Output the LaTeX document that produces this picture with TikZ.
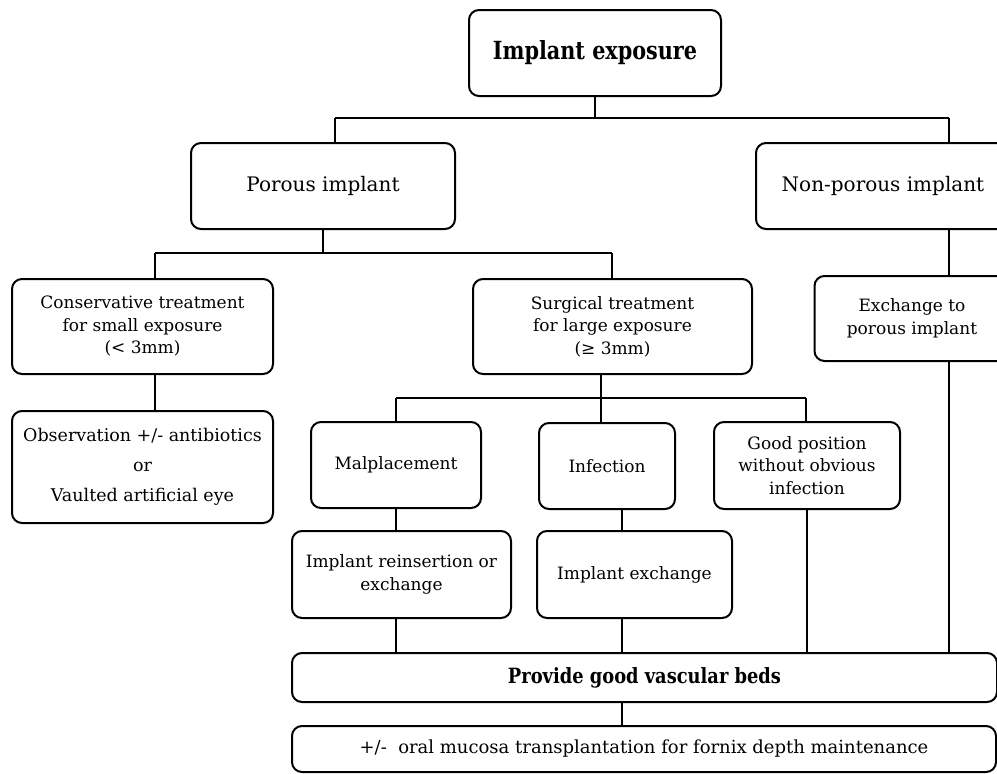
\documentclass[tikz,border=0pt]{standalone}
\usepackage{fontspec}
\setmainfont{DejaVu Serif}
\usepackage{graphicx}

\begin{document}
\begin{tikzpicture}[x=1pt,y=-1pt,
  box/.style={draw,line width=2pt,rounded corners=10pt,align=center,inner sep=0pt,
    font=\fontsize{17}{22.5}\selectfont},
  link/.style={draw,line width=2pt,-}]
\useasboundingbox (0,0) rectangle (997,774);

\node[box,minimum width=252,minimum height=86] (a) at (595,53)
  {\fontsize{25}{28}\selectfont\scalebox{0.83}[1]{\bfseries Implant exposure}};

\node[box,minimum width=264,minimum height=86,font=\fontsize{20}{24}\selectfont] (b) at (323,186) {Porous implant};
\node[box,minimum width=254,minimum height=86,font=\fontsize{20}{24}\selectfont] (c) at (883,186) {Non-porous implant};

\node[box,minimum width=261,minimum height=95] (d) at (142.5,326.5)
  {Conservative treatment\\for small exposure\\(< 3mm)};
\node[box,minimum width=279,minimum height=95] (e) at (612.5,326.5)
  {Surgical treatment\\for large exposure\\(≥ 3mm)};
\node[box,minimum width=195,minimum height=85] (f) at (912,318.5)
  {Exchange to\\porous implant};

\node[box,minimum width=261,minimum height=112,font=\fontsize{17.5}{30}\selectfont] (g) at (142.5,467)
  {Observation +/- antibiotics\\or\\Vaulted artificial eye};

\node[box,minimum width=170,minimum height=86] (h) at (396,465) {Malplacement};
\node[box,minimum width=136,minimum height=86] (i) at (607,466) {Infection};
\node[box,minimum width=186,minimum height=87] (j) at (807,465.5)
  {Good position\\without obvious\\infection};

\node[box,minimum width=219,minimum height=87] (k) at (401.5,574.5)
  {Implant reinsertion or\\exchange};
\node[box,minimum width=195,minimum height=87] (l) at (634.5,574.5) {Implant exchange};

\node[box,minimum width=705,minimum height=49] (m) at (644.5,677.5)
  {\fontsize{21}{24}\selectfont\scalebox{0.85}[1]{\bfseries Provide good vascular beds}};
\node[box,minimum width=704,minimum height=46,font=\fontsize{18}{22}\selectfont] (n) at (644,749)
  {+/-~ oral mucosa transplantation for fornix depth maintenance};

% bus lines
\coordinate (t1) at (335,118);
\coordinate (t2) at (949,118);
\coordinate (u1) at (155,253);
\coordinate (u2) at (612,253);
\coordinate (v1) at (396,398);
\coordinate (v2) at (806,398);
\coordinate (v3) at (601,398);
\coordinate (w) at (622,0);

\path[link] (a.south) -- (a.south |- t1);
\path[link] (t1) -- (t2);
\path[link] (t1) -- (t1 |- b.north);
\path[link] (t2) -- (t2 |- c.north);

\path[link] (b.south) -- (b.south |- u1);
\path[link] (u1) -- (u2);
\path[link] (u1) -- (u1 |- d.north);
\path[link] (u2) -- (u2 |- e.north);
\path[link] (d.south -| u1) -- (g.north -| u1);

\path[link] (e.south -| v3) -- (v3);
\path[link] (v1) -- (v2);
\path[link] (v1) -- (v1 |- h.north);
\path[link] (v3) -- (v3 |- i.north);
\path[link] (v2) -- (v2 |- j.north);

\path[link] (h.south) -- (h.south |- k.north);
\path[link] (i.south -| w) -- (l.north -| w);
\path[link] (k.south -| h.south) -- (m.north -| h.south);
\path[link] (l.south -| w) -- (m.north -| w);
\path[link] (j.south) -- (j.south |- m.north);

\path[link] (c.south -| t2) -- (f.north -| t2);
\path[link] (f.south -| t2) -- (m.north -| t2);

\path[link] (m.south -| w) -- (n.north -| w);
\end{tikzpicture}
\end{document}
